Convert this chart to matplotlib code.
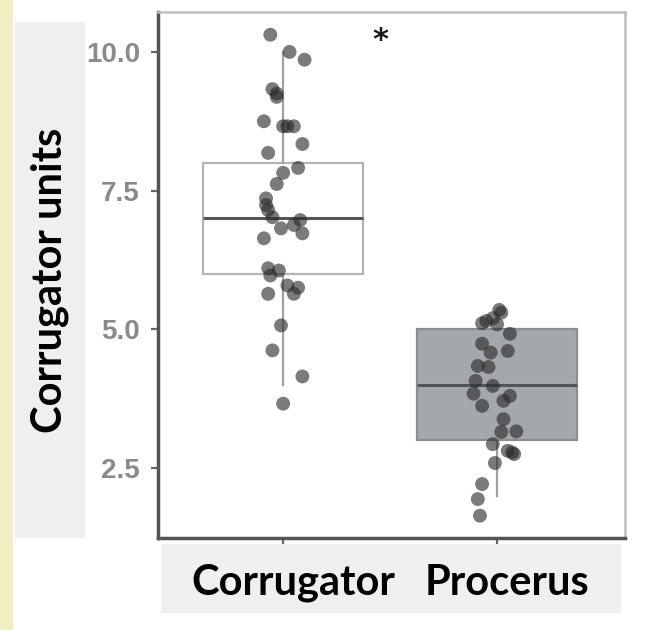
import matplotlib
matplotlib.use("Agg")
import matplotlib.pyplot as plt
from matplotlib.patches import Rectangle
from matplotlib.transforms import ScaledTranslation, blended_transform_factory

# ---------------- data ----------------
categories = ["Corrugator", "Procerus"]

corr_values = [10.31, 10.0, 9.86, 9.33, 9.25, 9.19, 8.75, 8.66, 8.66, 8.66,
               8.34, 8.18, 7.91, 7.82, 7.62, 7.36, 7.24, 7.15, 7.02, 6.97,
               6.88, 6.82, 6.73, 6.64, 6.10, 6.06, 5.97, 5.79, 5.75, 5.64,
               5.64, 5.07, 4.62, 4.15, 3.66]
corr_jitter = [-0.06, 0.03, 0.10, -0.05, -0.03, -0.03, -0.09, 0.00, 0.02, 0.05,
               0.09, -0.07, 0.07, 0.00, -0.03, -0.08, -0.08, -0.07, -0.05, 0.08,
               0.05, -0.01, 0.09, -0.09, -0.07, -0.02, -0.06, 0.02, 0.07, 0.05,
               -0.07, -0.01, -0.05, 0.09, 0.00]

proc_values = [5.35, 5.30, 5.20, 5.15, 5.11, 5.09, 4.92, 4.74, 4.58, 4.61,
               4.34, 4.32, 4.07, 3.98, 3.84, 3.80, 3.71, 3.62, 3.38, 3.16,
               3.15, 2.93, 2.81, 2.75, 2.78, 2.59, 2.21, 1.94, 1.64]
proc_jitter = [0.01, 0.02, -0.02, -0.05, -0.07, 0.00, 0.06, -0.07, -0.03, 0.05,
               -0.09, -0.04, -0.10, -0.02, -0.11, 0.06, 0.03, -0.07, 0.03, 0.09,
               0.02, -0.02, 0.05, 0.08, 0.07, -0.01, -0.07, -0.09, -0.08]

box_q1 = [6.0, 3.0]
box_med = [7.0, 4.0]
box_q3 = [8.0, 5.0]
box_whislo = [4.0, 2.0]
box_whishi = [10.0, 5.0]

yticks = [2.5, 5.0, 7.5, 10.0]
ytick_labels = ["2.5", "5.0", "7.5", "10.0"]
ylabel = "Corrugator units"
signif_mark = "*"

# ---------------- figure ----------------
W, H = 665, 630
fig = plt.figure(figsize=(W / 100, H / 100), dpi=100)
fig.patch.set_facecolor("white")

# yellow strip and grey label panels (figure coords)
for (x0, y0, w, h, col) in [
        (0, 0, 13, 630, "#f2eec4"),
        (15, 22, 70, 516, "#efefef"),
        (161, 544, 460, 69, "#efefef")]:
    fig.patches.append(Rectangle((x0 / W, 1 - (y0 + h) / H), w / W, h / H,
                                 transform=fig.transFigure, facecolor=col,
                                 edgecolor="none", zorder=-10))

ax = fig.add_axes([158 / W, 1 - 538 / H, (625 - 158) / W, (538 - 12) / H])
ax.set_facecolor("white")

stats = []
for i, c in enumerate(categories):
    stats.append(dict(label=c, q1=box_q1[i], med=box_med[i], q3=box_q3[i],
                      whislo=box_whislo[i], whishi=box_whishi[i], fliers=[]))

face_colors = ["white", "#a4a7ab"]
edge_colors = ["#b4b4b4", "#8e8e8e"]
bp = ax.bxp(stats, positions=[0, 1], widths=0.75, patch_artist=True,
            showcaps=False, showfliers=False, manage_ticks=False,
            whiskerprops=dict(color="#a0a0a0", linewidth=1.6),
            medianprops=dict(color="#555555", linewidth=2.2))
for patch, fc, ec in zip(bp["boxes"], face_colors, edge_colors):
    patch.set_facecolor(fc)
    patch.set_edgecolor(ec)
    patch.set_linewidth(1.6)
    patch.set_zorder(2)

ax.scatter([0 + j for j in corr_jitter], corr_values, s=100, color="#2a2a2a",
           alpha=0.62, edgecolors="none", zorder=4)
ax.scatter([1 + j for j in proc_jitter], proc_values, s=100, color="#2a2a2a",
           alpha=0.62, edgecolors="none", zorder=4)

ax.text(0.453, 10.2, signif_mark, ha="center", va="center", fontsize=22,
        fontweight="bold", color="#1a1a1a", zorder=5)

ax.set_xlim(-0.585, 1.598)
ax.set_ylim(1.238, 10.72)

ax.set_yticks(yticks)
ax.set_yticklabels(ytick_labels, fontsize=20, fontweight="bold", color="#8a8a8a",
                   family="Liberation Sans")
ax.set_xticks([0, 1])
ax.set_xticklabels(["", ""])
ax.tick_params(axis="y", length=5, width=1.6, color="#666666", pad=8)
ax.tick_params(axis="x", length=4, width=1.6, color="#666666")

# category labels, slightly right of the ticks as in the original
lab_trans = blended_transform_factory(ax.transData, ax.transAxes) + \
    ScaledTranslation(10 / 100, 0, fig.dpi_scale_trans)
for i, c in enumerate(categories):
    ax.text(i, -0.0856, c, transform=lab_trans, ha="center", va="center",
            fontsize=30, fontweight="bold", color="black", family="Lato",
            clip_on=False)

for side in ["left", "bottom"]:
    ax.spines[side].set_color("#555555")
    ax.spines[side].set_linewidth(2.5)
for side in ["top", "right"]:
    ax.spines[side].set_color("#bdbdbd")
    ax.spines[side].set_linewidth(1.8)

fig.text(50 / W, 1 - 280 / H, ylabel, rotation=90, ha="center", va="center",
         fontsize=30, fontweight="bold", color="black", family="Lato")

fig.savefig("out.png", dpi=100, facecolor=fig.get_facecolor())
